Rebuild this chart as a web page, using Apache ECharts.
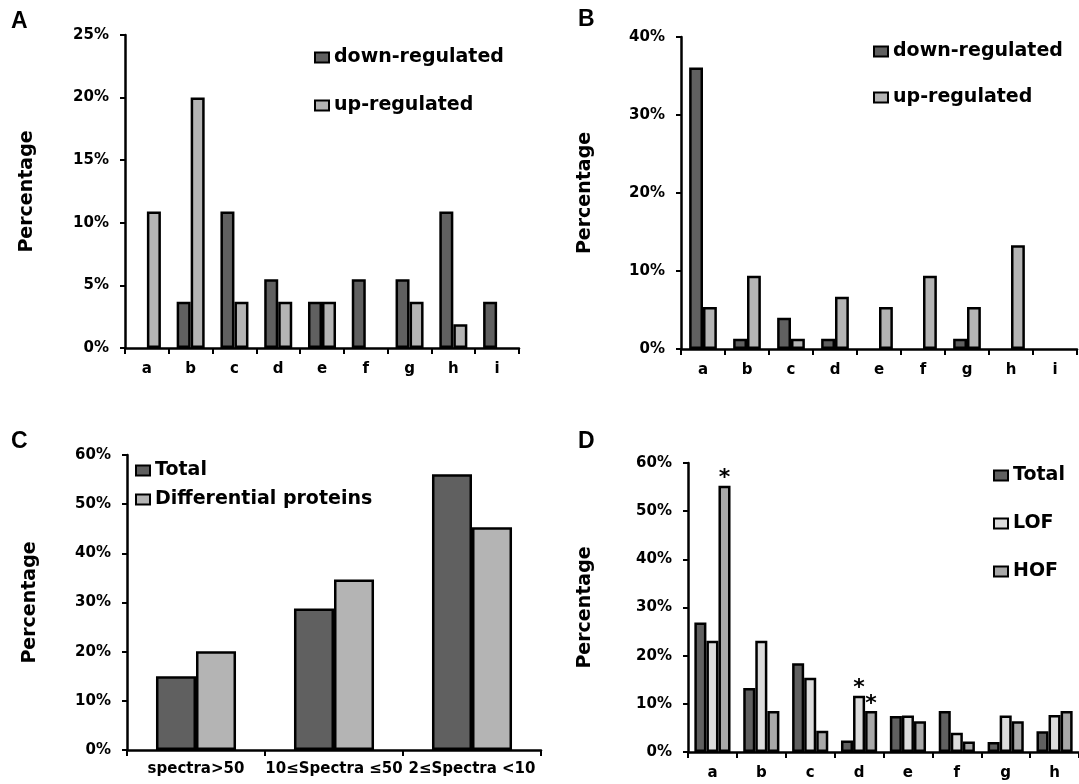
<!DOCTYPE html>
<html>
<head>
    <meta charset="utf-8">
    <title>ECharts</title>
    <script src="https://cdn.jsdelivr.net/npm/echarts@6/dist/echarts.min.js"></script>
    <style>
      body { margin: 0; background: #fff; }
    </style>
</head>
<body>
    <div id="main" style="width: 1079px;height:784px;"></div>
    <script type="text/javascript">
    // panel A / B categories
    var catsAB = ['a', 'b', 'c', 'd', 'e', 'f', 'g', 'h', 'i'];
    var aDown = [0, 3.7, 10.9, 5.5, 3.7, 5.5, 5.5, 10.9, 3.7];
    var aUp = [10.9, 20, 3.7, 3.7, 3.7, 0, 3.7, 1.9, 0];
    var bDown = [36.1, 1.3, 4.0, 1.3, 0, 0, 1.3, 0, 0];
    var bUp = [5.4, 9.4, 1.3, 6.7, 5.4, 9.4, 5.4, 13.3, 0];

    // panel C
    var catsC = ['spectra>50', '10≤Spectra ≤50', '2≤Spectra <10'];
    var cTotal = [15.0, 28.8, 56.1];
    var cDiff = [20.1, 34.7, 45.3];

    // panel D
    var catsD = ['a', 'b', 'c', 'd', 'e', 'f', 'g', 'h'];
    var dTotal = [26.9, 13.3, 18.4, 2.4, 7.5, 8.5, 2.1, 4.3];
    var dLOF = [23.1, 23.1, 15.4, 11.7, 7.6, 4.0, 7.6, 7.7];
    var dHOF = [55.3, 8.5, 4.4, 8.5, 6.4, 2.2, 6.4, 8.5];
    // bars marked with an asterisk
    var starLOF = [3];
    var starHOF = [0, 3];

    var FONT = 'DejaVu Sans';
    var DARK = '#606060', LIGHT = '#b4b4b4', LOFC = '#dcdcdc', HOFC = '#a8a8a8';

    var chart = echarts.init(document.getElementById('main'));

    function xAx(i, cats, margin) {
      return {
        type: 'category', gridIndex: i, data: cats,
        axisLine: { lineStyle: { color: '#000', width: 2.5 } },
        axisTick: { show: true, length: 6, lineStyle: { color: '#000', width: 2 } },
        axisLabel: { color: '#000', fontWeight: 'bold', fontFamily: FONT, fontSize: 15, margin: margin, interval: 0 }
      };
    }
    function yAx(i, max, step, gap) {
      return {
        type: 'value', gridIndex: i, min: 0, max: max, interval: step,
        name: 'Percentage', nameLocation: 'middle', nameGap: gap,
        nameTextStyle: { color: '#000', fontWeight: 'bold', fontFamily: FONT, fontSize: 19 },
        axisLine: { show: true, lineStyle: { color: '#000', width: 2.5 } },
        axisTick: { show: true, length: 5, lineStyle: { color: '#000', width: 2 } },
        splitLine: { show: false },
        axisLabel: { formatter: '{value}%', color: '#000', fontWeight: 'bold', fontFamily: FONT, fontSize: 15, margin: 16 }
      };
    }
    // empty categories get no bar at all (no flat outline on the axis)
    function noZero(values) {
      return values.map(function (v) { return v === 0 ? '-' : v; });
    }
    function bar(name, i, data, color, catGap) {
      return {
        name: name, type: 'bar', xAxisIndex: i, yAxisIndex: i, data: data,
        barGap: '0%', barCategoryGap: catGap,
        itemStyle: { color: color, borderColor: '#000', borderWidth: 2.5 },
        emphasis: { disabled: true }
      };
    }
    function starred(values, idx) {
      return values.map(function (v, k) {
        if (idx.indexOf(k) < 0) return v;
        return {
          value: v,
          label: { show: true, position: 'top', distance: -4, formatter: '*', color: '#000',
                   fontSize: 22, fontWeight: 'bold', fontFamily: FONT }
        };
      });
    }
    function legend(names, left, top, gap) {
      return {
        data: names, orient: 'vertical', left: left, top: top, itemGap: gap,
        itemWidth: 14, itemHeight: 10, icon: 'rect', selectedMode: false, padding: 0,
        itemStyle: { borderColor: '#000', borderWidth: 2 },
        textStyle: { color: '#000', fontWeight: 'bold', fontFamily: FONT, fontSize: 19 }
      };
    }
    function letter(t, left, top) {
      return { text: t, left: left, top: top, padding: 0,
               textStyle: { fontSize: 23, fontWeight: 'bold', fontFamily: 'Liberation Sans', color: '#000' } };
    }

    var option = {
      animation: false,
      title: [letter('A', 11, 10), letter('B', 578, 8), letter('C', 11, 430), letter('D', 578, 430)],
      legend: [
        legend(['down-regulated', 'up-regulated'], 314, 48, 29),
        legend(['down-regulated', 'up-regulated'], 873, 42, 27),
        legend(['Total', 'Differential proteins'], 135, 461, 10),
        legend(['Total', 'LOF', 'HOF'], 993, 466, 29)
      ],
      grid: [
        { left: 125, top: 35, width: 394, height: 313 },
        { left: 681, top: 37, width: 396, height: 312 },
        { left: 127, top: 455, width: 414, height: 295 },
        { left: 688, top: 463, width: 400, height: 289 }
      ],
      xAxis: [xAx(0, catsAB, 14), xAx(1, catsAB, 14), xAx(2, catsC, 12), xAx(3, catsD, 14)],
      yAxis: [yAx(0, 25, 5, 88), yAx(1, 40, 10, 86), yAx(2, 60, 10, 87), yAx(3, 60, 10, 93)],
      series: [
        bar('down-regulated', 0, noZero(aDown), DARK, '36%'),
        bar('up-regulated', 0, noZero(aUp), LIGHT, '36%'),
        bar('down-regulated', 1, noZero(bDown), DARK, '37%'),
        bar('up-regulated', 1, noZero(bUp), LIGHT, '37%'),
        bar('Total', 2, cTotal, DARK, '42%'),
        bar('Differential proteins', 2, cDiff, LIGHT, '42%'),
        bar('Total', 3, dTotal, DARK, '26%'),
        bar('LOF', 3, starred(dLOF, starLOF), LOFC, '26%'),
        bar('HOF', 3, starred(dHOF, starHOF), HOFC, '26%')
      ]
    };
    chart.setOption(option);
    </script>
</body>
</html>
